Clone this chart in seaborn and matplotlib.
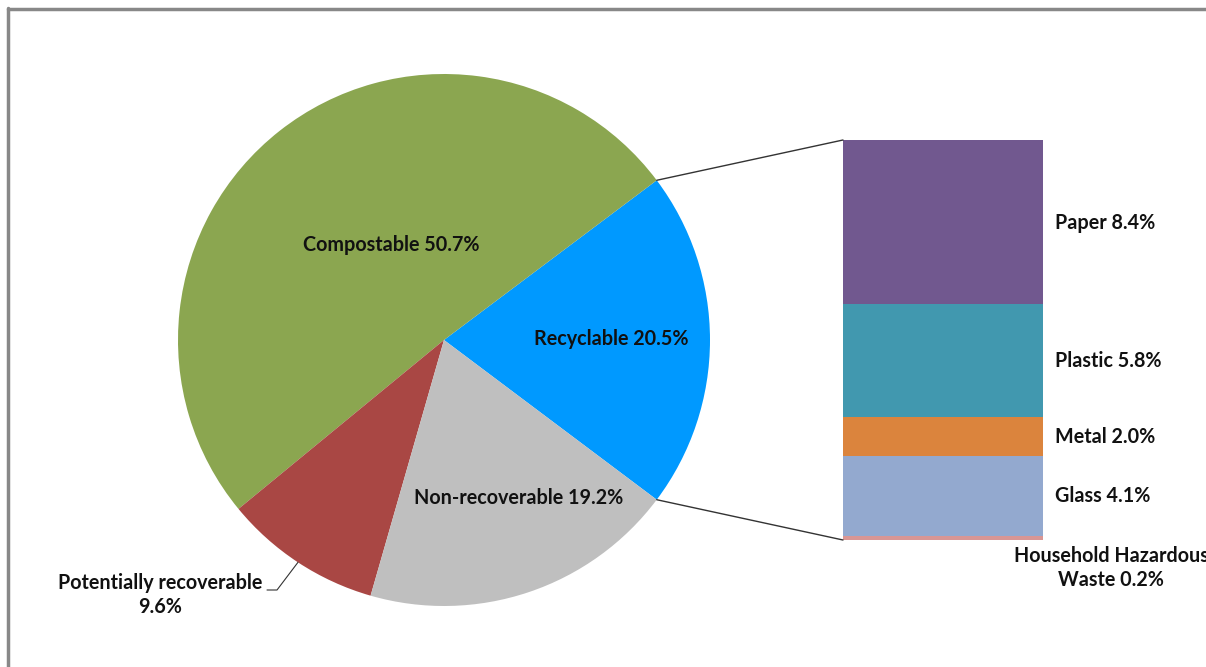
import matplotlib
matplotlib.use("Agg")
import matplotlib.pyplot as plt
from matplotlib.patches import ConnectionPatch
from matplotlib.lines import Line2D
import numpy as np
import seaborn as sns

# ---- data ----
pie_labels = ["Recyclable", "Compostable", "Potentially recoverable", "Non-recoverable"]
pie_values = [20.5, 50.7, 9.6, 19.2]
pie_colors = ["#0099FF", "#8BA650", "#A94744", "#BFBFBF"]

bar_labels = ["Household Hazardous\nWaste", "Glass", "Metal", "Plastic", "Paper"]
bar_values = [0.2, 4.1, 2.0, 5.8, 8.4]
bar_colors = ["#D99694", "#93A9CF", "#DB843D", "#4198AF", "#71588F"]

sns.set_style("white")
plt.rcParams["font.family"] = ["Lato", "DejaVu Sans"]

W, H = 1206, 667
fig = plt.figure(figsize=(W / 100, H / 100), dpi=100)

def px_axes(x0, y0, x1, y1):
    return fig.add_axes([x0 / W, 1 - y1 / H, (x1 - x0) / W, (y1 - y0) / H])

# pie
cx, cy, r = 444, 340, 266
ax1 = px_axes(cx - r, cy - r, cx + r, cy + r)
start = -pie_values[0] / 2 * 3.6
wedges, _ = ax1.pie(pie_values, colors=pie_colors, startangle=start,
                    counterclock=True, radius=1.0,
                    wedgeprops=dict(linewidth=0))
ax1.set_xlim(-1, 1)
ax1.set_ylim(-1, 1)
ax1.set_aspect("equal")
ax1.axis("off")

fs = 14.2
tk = dict(fontsize=fs, fontweight="bold", color="#111111")
def pt(px, py):
    return ((px - cx) / r, -(py - cy) / r)

ax1.text(*pt(391, 245), f"{pie_labels[1]} {pie_values[1]}%", ha="center", va="center", **tk)
ax1.text(*pt(611, 339), f"{pie_labels[0]} {pie_values[0]}%", ha="center", va="center", **tk)
ax1.text(*pt(519, 498), f"{pie_labels[3]} {pie_values[3]}%", ha="center", va="center", **tk)

# potentially recoverable label with leader
mid = np.deg2rad(start + (pie_values[0] + pie_values[1] + pie_values[2] / 2) * 3.6)
edge = (np.cos(mid), np.sin(mid))
ax1.text(*pt(160, 595), f"{pie_labels[2]}\n{pie_values[2]}%", ha="center", va="center",
         linespacing=1.2, clip_on=False, **tk)
lx, ly = pt(267, 590)
kx, ky = pt(277, 590)
ax1.add_line(Line2D([lx, kx, edge[0]], [ly, ky, edge[1]], color="#333333", lw=0.8, clip_on=False))

# stacked bar
ax2 = px_axes(843, 140, 1043, 540)
total = sum(bar_values)
bottom = 0
for lab, v, c in zip(bar_labels, bar_values, bar_colors):
    ax2.bar(0, v, width=1.0, bottom=bottom, color=c, linewidth=0)
    bottom += v
ax2.set_xlim(-0.5, 0.5)
ax2.set_ylim(0, total)
ax2.axis("off")

label_y = {"Paper": 223, "Plastic": 361, "Metal": 437, "Glass": 496}
def bpt_y(py):
    return total * (540 - py) / 400
for lab, v in zip(bar_labels, bar_values):
    if lab in label_y:
        ax2.text(0.5 + 12 / 200, bpt_y(label_y[lab]), f"{lab} {v}%", ha="left", va="center",
                 clip_on=False, **tk)
ax2.text(0.5 + 68 / 200, bpt_y(568), f"{bar_labels[0]} {bar_values[0]}%", ha="center",
         va="center", linespacing=1.2, clip_on=False, **tk)

# connector lines
a_top = np.deg2rad(pie_values[0] / 2 * 3.6)
a_bot = -a_top
for a, yb in [(a_top, total), (a_bot, 0)]:
    con = ConnectionPatch(xyA=(np.cos(a), np.sin(a)), coordsA=ax1.transData,
                          xyB=(-0.5, yb), coordsB=ax2.transData,
                          color="#333333", lw=1.0)
    fig.add_artist(con)

# frame (left and top border)
fig.add_artist(Line2D([8 / W, 8 / W], [0, 1 - 8 / H], transform=fig.transFigure,
                      color="#888888", lw=2.5))
fig.add_artist(Line2D([8 / W, 1], [1 - 8.5 / H, 1 - 8.5 / H], transform=fig.transFigure,
                      color="#888888", lw=2.5))

fig.savefig("out.png", dpi=100)
